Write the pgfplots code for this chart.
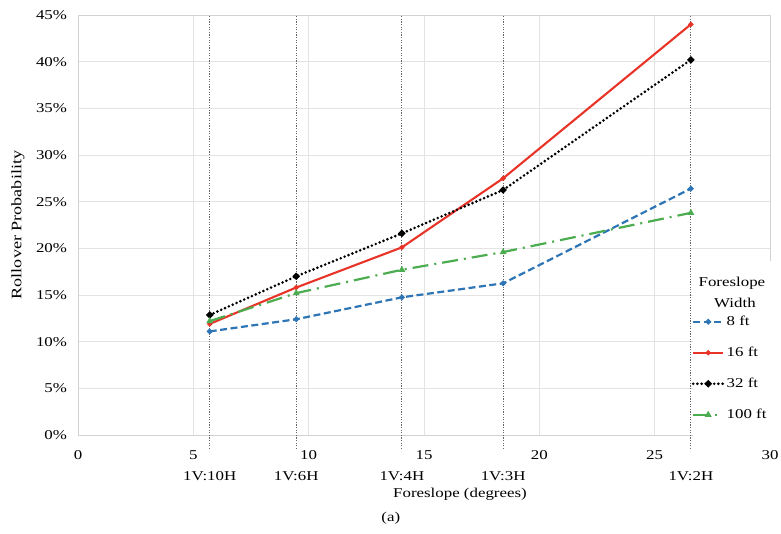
\documentclass[border=0pt]{standalone}
\usepackage{fontspec}
\setmainfont{Liberation Serif}[FakeStretch=1.25]
\usepackage{pgfplots}
\pgfplotsset{compat=1.18}
\definecolor{sblue}{RGB}{46,117,182}
\definecolor{sred}{RGB}{232,52,40}
\definecolor{sgreen}{RGB}{76,172,80}
\begin{document}
\begin{tikzpicture}[font=\fontsize{13.5}{16}\selectfont]
\begin{axis}[
  width=692pt, height=420pt, scale only axis,
  xmin=0, xmax=30, ymin=0, ymax=45,
  xtick={0,5,...,30}, ytick={0,5,...,45},
  yticklabel={\pgfmathprintnumber{\tick}\%},
  /pgf/number format/assume math mode=true,
  grid=major, major grid style={gray!22, line width=0.8pt},
  axis line style={gray!35, line width=0.8pt},
  major tick length=0pt,
  xticklabel style={yshift=-12pt},
  yticklabel style={xshift=-7.5pt},
  extra x ticks={5.71,9.46,14.04,18.43,26.57},
  extra x tick labels={1V:10H,1V:6H,1V:4H,1V:3H,1V:2H},
  extra x tick style={grid=none, xticklabel style={yshift=-21pt}},
  xlabel={Foreslope (degrees)},
  ylabel={Rollover Probability},
  xlabel style={at={(axis description cs:0.552,-0.1405)}, anchor=center},
  ylabel style={at={(axis description cs:-0.0867,0.5)}, anchor=center, font=\fontsize{14.5}{17}\selectfont},
  clip=false,
  legend style={draw=none, fill=none, at={(axis cs:26.6,12.96)}, anchor=north west,
    inner sep=0pt, row sep=16pt, font=\fontsize{13.5}{16}\selectfont},
  legend cell align=left,
  legend image code/.code={\draw[mark repeat=2,mark phase=2] plot coordinates {(0pt,0pt)(15pt,0pt)(30pt,0pt)};},
]
% reference slope lines
\addplot[forget plot, black!60, line width=0.8pt, dash pattern=on 1.2pt off 1.4pt] coordinates {(5.71,-1.5) (5.71,45)};
\addplot[forget plot, black!60, line width=0.8pt, dash pattern=on 1.2pt off 1.4pt] coordinates {(9.46,-1.5) (9.46,45)};
\addplot[forget plot, black!60, line width=0.8pt, dash pattern=on 1.2pt off 1.4pt] coordinates {(14.04,-1.5) (14.04,45)};
\addplot[forget plot, black!60, line width=0.8pt, dash pattern=on 1.2pt off 1.4pt] coordinates {(18.43,-1.5) (18.43,45)};
\addplot[forget plot, black!60, line width=0.8pt, dash pattern=on 1.2pt off 1.4pt] coordinates {(26.57,-1.5) (26.57,45)};

\addplot[sblue, line width=2.2pt, dash pattern=on 7pt off 3.5pt, mark=*, mark size=1.6pt, mark options={solid}]
  coordinates {(5.71,11.1) (9.46,12.4) (14.04,14.75) (18.43,16.25) (26.57,26.4)};
\addlegendentry{8 ft}
\addplot[sred, line width=2.1pt, mark=*, mark size=1.4pt]
  coordinates {(5.71,11.9) (9.46,15.8) (14.04,20.1) (18.43,27.5) (26.57,44.0)};
\addlegendentry{16 ft}
\addplot[black, line width=2.9pt, dash pattern=on 0pt off 4.2pt, line cap=round, mark=*, mark size=1.8pt, mark options={solid}]
  coordinates {(5.71,12.86) (9.46,17.0) (14.04,21.6) (18.43,26.25) (26.57,40.2)};
\addlegendentry{32 ft}
\addplot[sgreen, line width=2.2pt, dash pattern=on 16pt off 6pt on 2pt off 6pt, mark=triangle*, mark size=1.8pt, mark options={solid}]
  coordinates {(5.71,12.2) (9.46,15.2) (14.04,17.7) (18.43,19.6) (26.57,23.8)};
\addlegendentry{100 ft}

\fill[white] (axis cs:26.68,18.6) rectangle (axis cs:32,-0.5);
\node at (axis cs:28.35,16.29) {Foreslope};
\node at (axis cs:28.48,14.15) {Width};
\node at (axis description cs:0.452,-0.1976) {(a)};
\coordinate (O) at (rel axis cs:0,0);
\end{axis}
\pgfresetboundingbox
\path ([shift={(-78pt,-99pt)}]O) rectangle ++(781pt,534pt);
\end{tikzpicture}
\end{document}
